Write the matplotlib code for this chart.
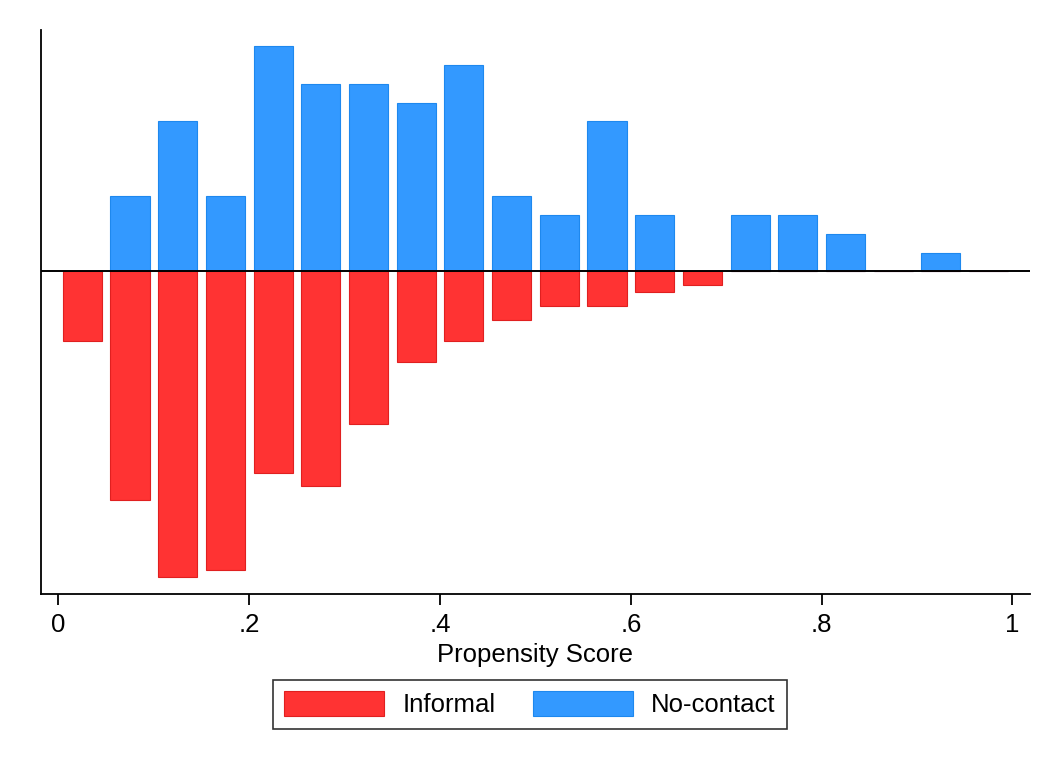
import numpy as np
import matplotlib
matplotlib.use("Agg")
import matplotlib.pyplot as plt
from matplotlib.patches import Patch

plt.rcParams['font.family'] = ['Liberation Sans', 'DejaVu Sans']

# Histogram bins of the propensity score (width 0.05)
bin_centers = [0.025, 0.075, 0.125, 0.175, 0.225, 0.275, 0.325, 0.375,
               0.425, 0.475, 0.525, 0.575, 0.625, 0.675, 0.725, 0.775,
               0.825, 0.875, 0.925, 0.975]
# Counts per bin for each group
informal_counts = [10, 33, 44, 43, 29, 31, 22, 13, 10, 7, 5, 5, 3, 2,
                   0, 0, 0, 0, 0, 0]
nocontact_counts = [0, 4, 8, 4, 12, 10, 10, 9, 11, 4, 3, 8, 3, 0,
                    3, 3, 2, 0, 1, 0]
bin_width = 0.05
x_ticks = [0, 0.2, 0.4, 0.6, 0.8, 1.0]
x_tick_labels = ["0", ".2", ".4", ".6", ".8", "1"]
series_labels = ["Informal", "No-contact"]

red = "#FF3333"
red_edge = "#E02020"
blue = "#3399FF"
blue_edge = "#1E88EE"

informal = np.asarray(informal_counts, float)
nocontact = np.asarray(nocontact_counts, float)
informal_density = informal / (informal.sum() * bin_width)
nocontact_density = nocontact / (nocontact.sum() * bin_width)

fig = plt.figure(figsize=(10.45, 7.63), dpi=100)
ax = fig.add_axes([0.0392, 0.2215, 0.9464, 0.7392])

bar_w = 0.041
ax.bar(bin_centers, nocontact_density, width=bar_w, color=blue,
       edgecolor=blue_edge, linewidth=0.8, zorder=2)
ax.bar(bin_centers, -informal_density, width=bar_w, color=red,
       edgecolor=red_edge, linewidth=0.8, zorder=2)
ax.axhline(0, color="black", linewidth=1.4, zorder=3)

ax.set_xlim(-0.0183, 1.0183)
ax.set_ylim(-3.62, 2.71)

for side in ("top", "right"):
    ax.spines[side].set_visible(False)
for side in ("left", "bottom"):
    ax.spines[side].set_linewidth(1.3)

ax.set_yticks([])
ax.set_xticks(x_ticks)
ax.set_xticklabels(x_tick_labels)
ax.tick_params(axis="x", length=8, width=1.3, pad=6, labelsize=18.5)
ax.set_xlabel("Propensity Score", fontsize=18.5, labelpad=4)

handles = [Patch(facecolor=red, edgecolor=red_edge, linewidth=0.8),
           Patch(facecolor=blue, edgecolor=blue_edge, linewidth=0.8)]
leg = fig.legend(handles, series_labels, loc="center",
                 bbox_to_anchor=(0.507, 0.077), ncol=2, fontsize=18.5,
                 frameon=True, fancybox=False, edgecolor="black",
                 handlelength=3.9, handleheight=1.1, handletextpad=0.7,
                 columnspacing=1.45, borderpad=0.45, borderaxespad=0)
leg.get_frame().set_linewidth(1.2)

fig.savefig("out.png", dpi=100, facecolor="white")
